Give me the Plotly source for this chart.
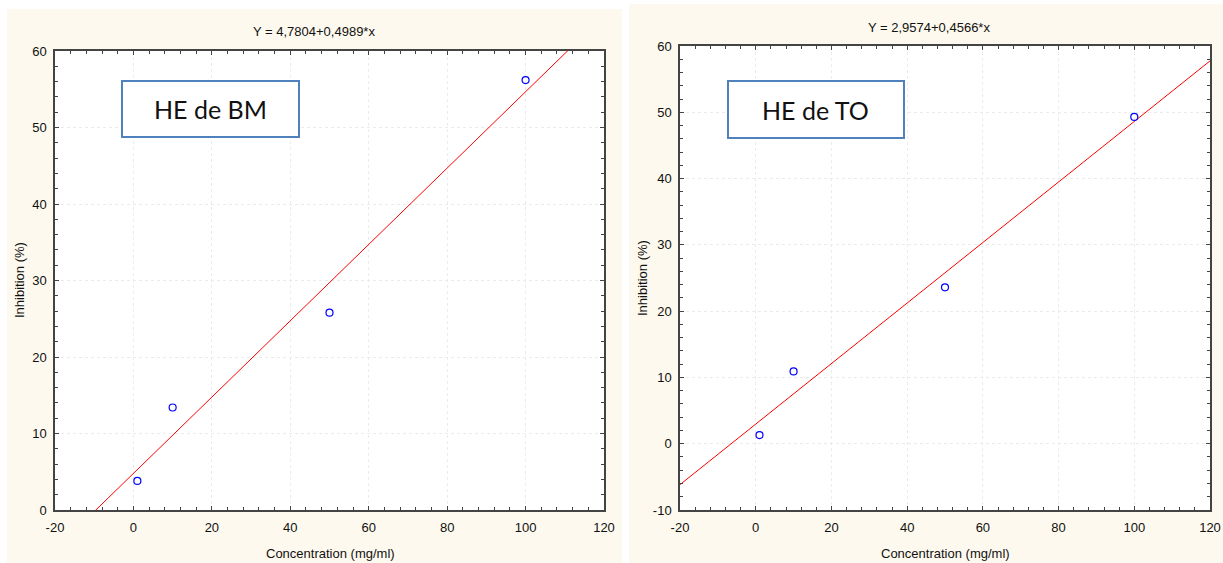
import plotly.graph_objects as go

# ---- data ----
concentration = [1, 10, 50, 100]
bm_inhibition = [3.8, 13.4, 25.8, 56.2]
to_inhibition = [1.3, 10.9, 23.6, 49.3]
bm_fit = [4.7804, 0.4989]   # intercept, slope
to_fit = [2.9574, 0.4566]
titles = ["Y = 4,7804+0,4989*x", "Y = 2,9574+0,4566*x"]
labels = ["HE de BM", "HE de TO"]
x_ticks = [-20, 0, 20, 40, 60, 80, 100, 120]
x_ticktext = ["-20", "0", "20", "40", "60", "80", "100", "120"]
bm_y_ticks = [0, 10, 20, 30, 40, 50, 60]
bm_y_ticktext = ["0", "10", "20", "30", "40", "50", "60"]
to_y_ticks = [-10, 0, 10, 20, 30, 40, 50, 60]
to_y_ticktext = ["-10", "0", "10", "20", "30", "40", "50", "60"]
x_range = [-20, 120]
bm_y_range = [0, 60]
to_y_range = [-10, 60]

W, H = 1223, 563
def px(x): return x / W
def py(y): return 1 - y / H

fig = go.Figure()

FONT = "Liberation Sans, Arial, sans-serif"

def fit_line(fit):
    return [fit[0] + fit[1] * x for x in x_range]

marker = dict(symbol="circle-open", color="#0000ff", size=7, line=dict(width=1.2))
fig.add_trace(go.Scatter(x=x_range, y=fit_line(bm_fit), mode="lines",
                         line=dict(color="#ff0000", width=1), xaxis="x", yaxis="y",
                         showlegend=False, hoverinfo="skip"))
fig.add_trace(go.Scatter(x=concentration, y=bm_inhibition, mode="markers", marker=marker,
                         xaxis="x", yaxis="y", showlegend=False))
fig.add_trace(go.Scatter(x=x_range, y=fit_line(to_fit), mode="lines",
                         line=dict(color="#ff0000", width=1), xaxis="x2", yaxis="y2",
                         showlegend=False, hoverinfo="skip"))
fig.add_trace(go.Scatter(x=concentration, y=to_inhibition, mode="markers", marker=marker,
                         xaxis="x2", yaxis="y2", showlegend=False))

# panel geometry (pixels)
L = dict(x0=55, x1=604, y0=51, y1=510)
R = dict(x0=680, x1=1210, y0=46, y1=510)

AX = "#444444"
TICKFONT = dict(family=FONT, size=13, color="#111111")

def xaxis(domain, anchor):
    return dict(domain=domain, anchor=anchor, range=x_range, automargin=False,
                tickmode="array", tickvals=x_ticks, ticktext=x_ticktext,
                showline=True, linecolor=AX, linewidth=1.5, mirror="allticks",
                ticks="inside", ticklen=4, tickcolor=AX,
                minor=dict(ticks="inside", dtick=4, tick0=0, ticklen=3, tickcolor=AX, showgrid=False),
                showgrid=True, gridcolor="#ebebeb", griddash="dot", gridwidth=1,
                zeroline=False, tickfont=TICKFONT, ticklabelstandoff=5)

def yaxis(domain, anchor, rng, tv, tt):
    return dict(domain=domain, anchor=anchor, range=rng, automargin=False,
                tickmode="array", tickvals=tv, ticktext=tt,
                showline=True, linecolor=AX, linewidth=1.5, mirror="allticks",
                ticks="inside", ticklen=4, tickcolor=AX,
                minor=dict(ticks="inside", dtick=2, tick0=0, ticklen=3, tickcolor=AX, showgrid=False),
                showgrid=True, gridcolor="#ebebeb", griddash="dot", gridwidth=1,
                zeroline=False, tickfont=TICKFONT, ticklabelstandoff=4)

fig.update_layout(
    width=W, height=H, margin=dict(l=0, r=0, t=0, b=0, autoexpand=False),
    paper_bgcolor="white", plot_bgcolor="white",
    xaxis=xaxis([px(L["x0"]), px(L["x1"])], "y"),
    yaxis=yaxis([py(L["y1"]), py(L["y0"])], "x", bm_y_range, bm_y_ticks, bm_y_ticktext),
    xaxis2=xaxis([px(R["x0"]), px(R["x1"])], "y2"),
    yaxis2=yaxis([py(R["y1"]), py(R["y0"])], "x2", to_y_range, to_y_ticks, to_y_ticktext),
)

cream = "#fdf9ee"
shapes = [
    dict(type="rect", xref="paper", yref="paper", x0=px(7), x1=px(622), y0=py(563), y1=py(9),
         fillcolor=cream, line=dict(width=0), layer="below"),
    dict(type="rect", xref="paper", yref="paper", x0=px(629), x1=px(1223), y0=py(563), y1=py(4),
         fillcolor=cream, line=dict(width=0), layer="below"),
    dict(type="rect", xref="paper", yref="paper", x0=px(L["x0"]), x1=px(L["x1"]), y0=py(L["y1"]), y1=py(L["y0"]),
         fillcolor="white", line=dict(width=0), layer="below"),
    dict(type="rect", xref="paper", yref="paper", x0=px(R["x0"]), x1=px(R["x1"]), y0=py(R["y1"]), y1=py(R["y0"]),
         fillcolor="white", line=dict(width=0), layer="below"),
    dict(type="rect", xref="paper", yref="paper", x0=px(122), x1=px(299), y0=py(137), y1=py(81),
         fillcolor="white", line=dict(color="#4f81bd", width=2), layer="above"),
    dict(type="rect", xref="paper", yref="paper", x0=px(728), x1=px(904), y0=py(138), y1=py(81),
         fillcolor="white", line=dict(color="#4f81bd", width=2), layer="above"),
]
fig.update_layout(shapes=shapes)

ann = []
txt = dict(family=FONT, size=13, color="#111111")
def add(text, x, y, font, angle=0):
    ann.append(dict(text=text, x=px(x), y=py(y), xref="paper", yref="paper", showarrow=False,
                    font=font, textangle=angle, xanchor="center", yanchor="middle"))
add(titles[0], 314, 32, txt)
add(titles[1], 929, 27, txt)
add("Concentration (mg/ml)", 330, 553, txt)
add("Concentration (mg/ml)", 945, 553, txt)
add("Inhibition (%)", 19, 280, txt, -90)
add("Inhibition (%)", 642, 278, txt, -90)
box = dict(family="Lato, Carlito, Calibri, sans-serif", size=25, color="#111111")
add(labels[0], 210.5, 109, box)
add(labels[1], 816, 109.5, box)
fig.update_layout(annotations=ann)

fig.write_html("out.html", config={"displayModeBar": False},
               post_script="document.body.style.margin='0';document.body.style.overflow='hidden';")
